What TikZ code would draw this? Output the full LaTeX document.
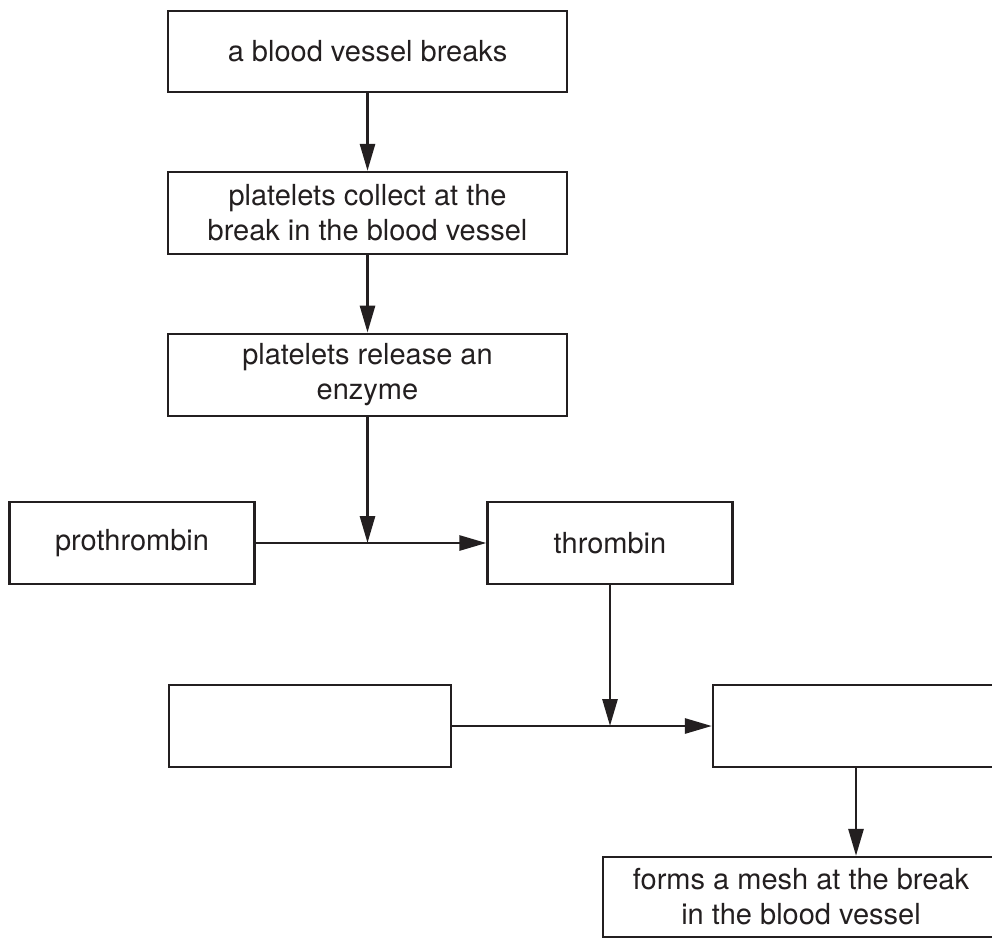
\documentclass[tikz,border=0pt]{standalone}
\usepackage{fontspec}
\setmainfont{TeX Gyre Heros}
\usetikzlibrary{arrows.meta}
\definecolor{ink}{HTML}{231F20}
\tikzset{
  box/.style={draw=ink, line width=2.3pt, rectangle, inner sep=0pt, align=center,
    font=\fontsize{29}{35}\selectfont, text=ink},
  conn/.style={draw=ink, line width=2.8pt, -{Triangle[length=27pt,width=15pt]}}
}
\begin{document}
\begin{tikzpicture}[x=1pt,y=-1pt]
\useasboundingbox (0,0) rectangle (992,939);
\clip (0,0) rectangle (992,939);
\fill[white] (0,0) rectangle (992,939);
\node[box, minimum width=399pt, minimum height=81pt] (b1) at (367.5,51.5) {a blood vessel breaks};
\node[box, minimum width=399pt, minimum height=82pt] (b2) at (367.5,213) {platelets collect at the\\break in the blood vessel};
\node[box, minimum width=399pt, minimum height=82.5pt] (b3) at (367.5,375) {platelets release an\\enzyme};
\node[box, minimum width=245pt, minimum height=82pt] (pro) at (132,543) {prothrombin};
\node[box, minimum width=245pt, minimum height=82pt] (thr) at (610,543) {thrombin};
\node[box, minimum width=282pt, minimum height=82pt] (lb) at (310,726) {};
\node[box, minimum width=286pt, minimum height=82pt] (rb) at (856,726) {};
\node[box, minimum width=396pt, minimum height=80pt] (bot) at (801,897) {forms a mesh at the break\\in the blood vessel};
\coordinate (j1) at (b3.south |- pro.east);
\coordinate (j2) at (thr.south |- lb.east);
\coordinate (j3) at (rb.south |- bot.north);
\draw[conn] (b1.south) -- (b2.north);
\draw[conn] (b2.south) -- (b3.north);
\draw[conn] (b3.south) -- (j1);
\draw[conn] (pro.east) -- (thr.west);
\draw[conn] (thr.south) -- (j2);
\draw[conn] (lb.east) -- (rb.west);
\draw[conn] (rb.south) -- (j3);
\end{tikzpicture}
\end{document}
